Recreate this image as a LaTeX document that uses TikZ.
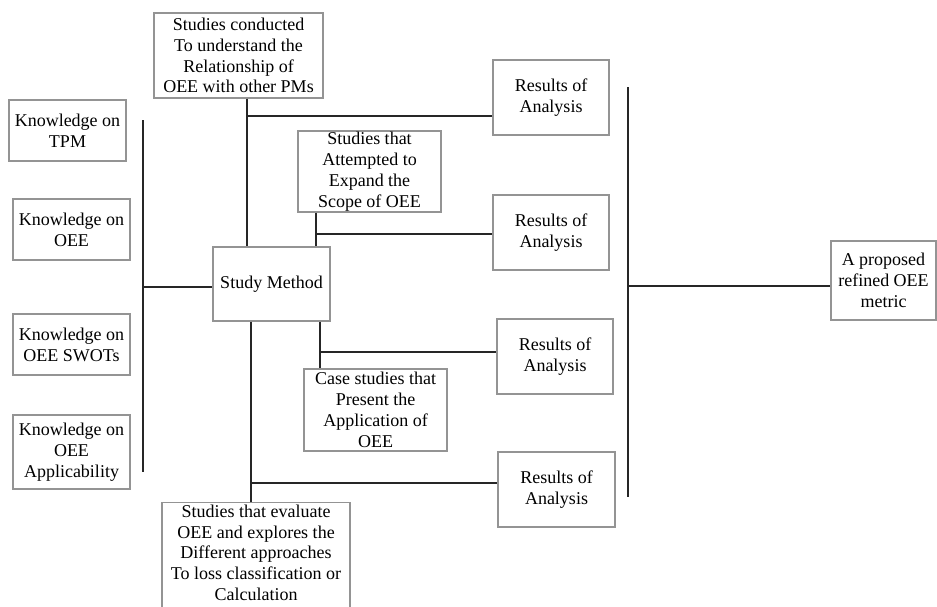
\documentclass[tikz,border=0pt]{standalone}
\usepackage{fontspec}
\setmainfont{Liberation Serif}
\begin{document}
\begin{tikzpicture}[x=1pt,y=-1pt,
  box/.style={draw=black!42, line width=1.3pt, rectangle, inner sep=0pt,
    align=center, font=\fontsize{18}{20.8}\selectfont},
  link/.style={draw=black!85, line width=1.3pt}]
\useasboundingbox (0,0) rectangle (937,606);
\fill[white] (0,0) rectangle (937,606);

% knowledge inputs on the left
\node[box, minimum width=117pt, minimum height=61pt] (k1) at (67.5,130.5) {Knowledge on\\TPM};
\node[box, minimum width=117pt, minimum height=61pt] (k2) at (71.5,229.5) {Knowledge on\\OEE};
\node[box, minimum width=117pt, minimum height=61pt] (k3) at (71.5,344.5) {Knowledge on\\OEE SWOTs};
\node[box, minimum width=117pt, minimum height=74pt] (k4) at (71.5,452) {Knowledge on\\OEE\\Applicability};

% central method
\node[box, minimum width=117pt, minimum height=74pt] (sm) at (271.5,284) {Study Method};

% study groups
\node[box, minimum width=169pt, minimum height=85pt] (top) at (238.5,55.5) {Studies conducted\\To understand the\\Relationship of\\OEE with other PMs};
\node[box, minimum width=143pt, minimum height=81pt] (att) at (369.5,171.5) {Studies that\\Attempted to\\Expand the\\Scope of OEE};
\node[box, minimum width=143pt, minimum height=82pt] (cas) at (375.5,410) {Case studies that\\Present the\\Application of\\OEE};
\node[box, minimum width=188pt, minimum height=110pt, anchor=north] (bot) at (256,502) {};
\node[align=center, font=\fontsize{18}{20.8}\selectfont, anchor=north, inner sep=0pt] (bott) at (256,504.5) {Studies that evaluate\\OEE and explores the\\Different approaches\\To loss classification or\\Calculation};

% results of analysis
\node[box, minimum width=116pt, minimum height=75pt] (r1) at (551,97.5) {Results of\\Analysis};
\node[box, minimum width=116pt, minimum height=75pt] (r2) at (551,232.5) {Results of\\Analysis};
\node[box, minimum width=116pt, minimum height=75pt] (r3) at (555,356.5) {Results of\\Analysis};
\node[box, minimum width=117pt, minimum height=75pt] (r4) at (556.5,489.5) {Results of\\Analysis};

% final outcome
\node[box, minimum width=105pt, minimum height=79pt] (fin) at (883.5,280.5) {A proposed\\refined OEE\\metric};

% left gathering bar
\coordinate (lbTop) at (143,120);
\coordinate (lbBot) at (143,472);
\coordinate (lbMid) at (143,287);
\draw[link] (lbTop) -- (lbBot);
\draw[link] (lbMid) -- (lbMid -| sm.west);

% right gathering bar
\coordinate (rbTop) at (628,87);
\coordinate (rbBot) at (628,497);
\coordinate (rbMid) at (628,286);
\draw[link] (rbTop) -- (rbBot);
\draw[link] (rbMid) -- (rbMid -| fin.west);

% branches from the study method
\coordinate (x1) at (247,0);
\coordinate (x2) at (316,0);
\coordinate (x3) at (320,0);
\coordinate (x4) at (251,0);
\coordinate (j1) at (247,116);
\coordinate (j2) at (316,234);
\coordinate (j3) at (320,352);
\coordinate (j4) at (251,483);

\draw[link] (top.south -| x1) -- (sm.north -| x1);
\draw[link] (j1) -- (j1 -| r1.west);
\draw[link] (att.south -| x2) -- (sm.north -| x2);
\draw[link] (j2) -- (j2 -| r2.west);
\draw[link] (sm.south -| x3) -- (cas.north -| x3);
\draw[link] (j3) -- (j3 -| r3.west);
\draw[link] (sm.south -| x4) -- (bot.north -| x4);
\draw[link] (j4) -- (j4 -| r4.west);
\end{tikzpicture}
\end{document}
